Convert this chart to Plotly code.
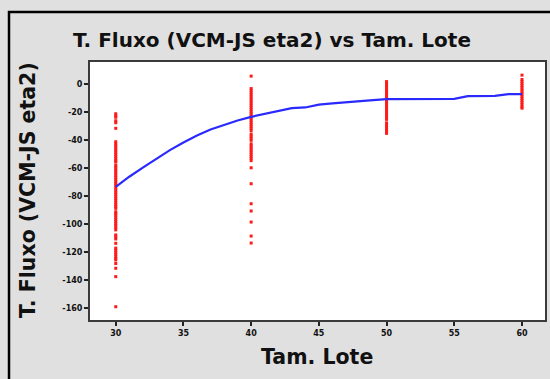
import plotly.graph_objects as go

# Fitted curve (blue)
curve_x = [30, 31, 32, 33, 34, 35, 36, 37, 38, 39, 40, 41, 42, 43, 44, 45,
           46, 47, 48, 49, 50, 51, 52, 53, 54, 55, 56, 57, 58, 59, 60]
curve_y = [-73.3, -66, -59.5, -53, -47, -41.5, -36.5, -32.3, -28.8, -25.8, -23.2,
           -21, -19, -17, -16.5, -14.5, -13.6, -13, -11.9, -11.3, -10.5,
           -10.5, -10.5, -10.5, -10.5, -10.4, -8.4, -8.4, -8.2, -6.9, -6.9]

# Observed values (red) per lot size
obs_30 = [-21, -22.5, -23.5, -26, -27.4, -31.4,
          -41, -42.5, -44, -45.5, -47, -48.5, -50, -51.5, -53, -54.5, -55.3,
          -57.6, -59, -60.5, -62, -63.5, -65, -66.5, -68, -69.5, -71, -72.5, -74,
          -75.5, -77, -78.5, -80, -81.5, -83, -84.5, -86, -87.4, -88.6,
          -91, -92.2, -93.4, -95, -96.5, -98, -99.5, -101, -102.5, -104,
          -107.6, -109, -110.5, -113.6,
          -117, -118.5, -120, -121.5, -123, -124.5, -125.5,
          -128, -131.4, -137.4, -158.9]
obs_40 = [5.9, -3, -4.5, -6, -7.5, -9, -10.5, -12, -13.5, -15, -16.5, -18, -19.5,
          -21, -22.5, -24, -25.5, -27, -28.5, -30, -31.5, -33,
          -35.5, -37, -38.5, -40,
          -42.5, -44, -45.5, -47, -48.5, -50, -51.5, -53, -54.5,
          -59.6, -71, -85.3, -90.5, -98.4, -108.4, -113.4]
obs_50 = [2, 0.5, -1, -2.5, -4, -5.5, -7, -8.5, -10, -11.5, -13, -14.5, -16,
          -17.5, -19, -20.5, -22, -23.5, -25, -27.5, -29, -30.5, -32, -33.5, -35]
obs_60 = [6.6, 3.5, 2, 0.5, -1, -2.5, -4, -5.5, -7, -8.5, -10, -11.5, -13,
          -14.5, -16, -17]

x_ticks = [30, 35, 40, 45, 50, 55, 60]
y_ticks = [0, -20, -40, -60, -80, -100, -120, -140, -160]

fig = go.Figure()
for xv, ys in [(30, obs_30), (40, obs_40), (50, obs_50), (60, obs_60)]:
    fig.add_trace(go.Scatter(
        x=[xv] * len(ys), y=ys, mode="markers",
        marker=dict(color="#ff1a1a", size=3, symbol="square", line=dict(width=0)),
        showlegend=False, hoverinfo="x+y"))

fig.add_trace(go.Scatter(
    x=curve_x, y=curve_y, mode="lines",
    line=dict(color="#2a2aff", width=2.2),
    showlegend=False))

ml, mr, mt, mb = 90, 5, 62, 59
pw = 550 - ml - mr
ph = 379 - mt - mb
font = "DejaVu Sans"

fig.update_layout(
    width=550, height=379,
    margin=dict(l=ml, r=mr, t=mt, b=mb, autoexpand=False),
    paper_bgcolor="#e0e0e0",
    plot_bgcolor="white",
    title=dict(text="<b>T. Fluxo (VCM-JS eta2) vs Tam. Lote</b>",
               x=272 / 550, xanchor="center", y=1 - 40 / 379, yanchor="middle",
               font=dict(family=font, size=20, color="#111")),
    xaxis=dict(range=[28.1, 61.7], tickvals=x_ticks,
               ticktext=[f"<b>{v}</b>" for v in x_ticks],
               ticks="outside", ticklen=4, automargin=False,
               tickwidth=1.5, tickcolor="#222", showgrid=False, zeroline=False,
               showline=True, mirror=True, linecolor="#3a3a3a", linewidth=2,
               tickfont=dict(family=font, size=8, color="#111")),
    yaxis=dict(range=[-168.4, 16], tickvals=y_ticks,
               ticktext=[f"<b>{v}</b>" for v in y_ticks],
               ticks="outside", ticklen=4, automargin=False,
               tickwidth=1.5, tickcolor="#222", showgrid=False, zeroline=False,
               showline=True, mirror=True, linecolor="#3a3a3a", linewidth=2,
               tickfont=dict(family=font, size=8, color="#111")),
    annotations=[
        dict(text="<b>T. Fluxo (VCM-JS eta2)</b>", textangle=-90,
             xref="paper", yref="paper", x=(28 - ml) / pw, y=1 - (190 - mt) / ph,
             xanchor="center", yanchor="middle", showarrow=False,
             font=dict(family=font, size=20.5, color="#111")),
        dict(text="<b>Tam. Lote</b>",
             xref="paper", yref="paper", x=(316.5 - ml) / pw, y=-(357 - 320) / ph,
             xanchor="center", yanchor="middle", showarrow=False,
             font=dict(family=font, size=20.5, color="#111")),
    ],
    shapes=[dict(type="rect", xref="paper", yref="paper",
                 x0=(9 - ml) / pw, x1=(600 - ml) / pw,
                 y0=-(mb + 20) / ph, y1=1 + (mt - 12) / ph,
                 line=dict(color="black", width=2.5), layer="below")],
)

fig.write_html("out.html",
               config={"displayModeBar": False},
               post_script="document.body.style.margin='0';"
                           "document.body.style.overflow='hidden';")
